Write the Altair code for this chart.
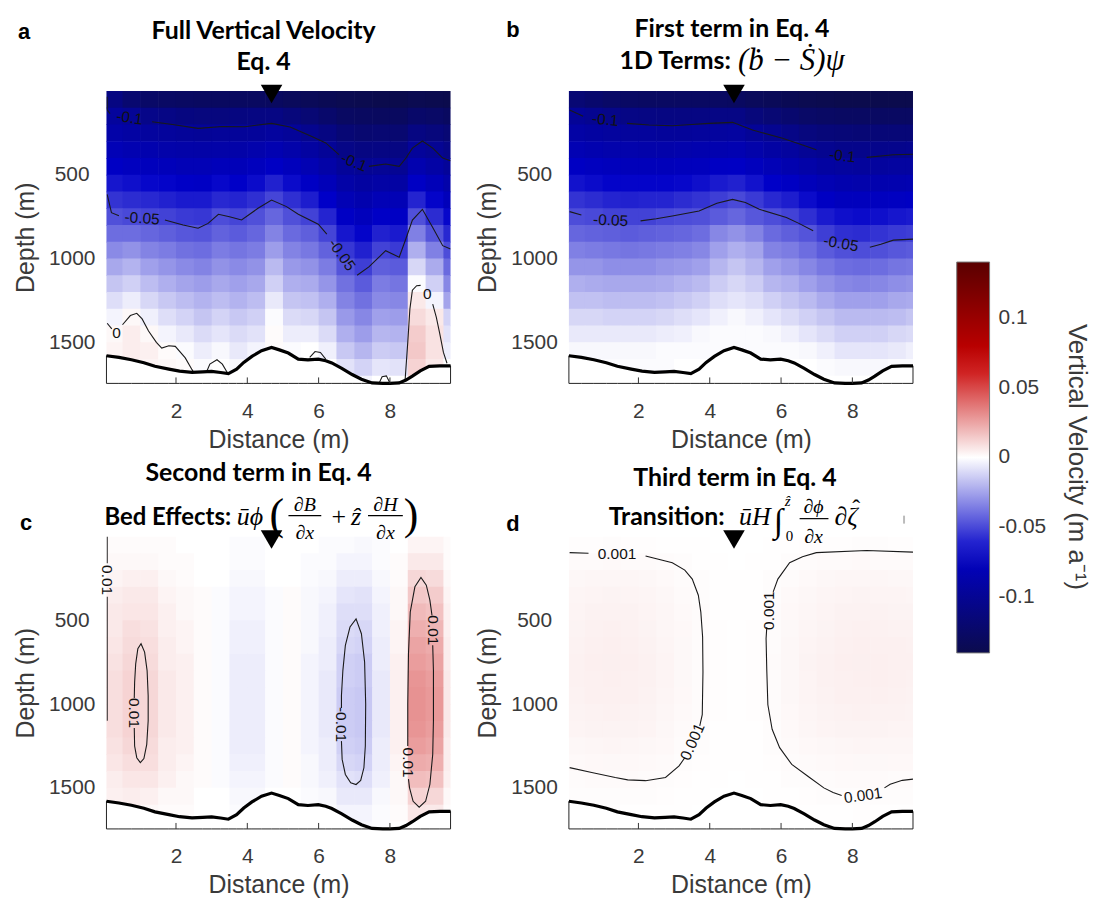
import altair as alt
import pandas as pd

# ---------------- axes / grid definitions ----------------
X_DOMAIN = [0.05, 9.7]
D_MAX = 1745
X_TICKS = [2, 4, 6, 8]
Y_TICKS = [500, 1000, 1500]
MARKER_X = 4.68

X_EDGES = [0.0, 0.5, 1.0, 1.5, 2.0, 2.5, 3.0, 3.5, 4.0, 4.5, 5.0, 5.5, 6.0, 6.5, 7.0, 7.5, 8.0, 8.5, 9.0, 9.5, 10.0]
D_EDGES = [0, 100, 200, 300, 400, 500, 600, 700, 800, 900, 1000, 1100, 1200, 1300, 1400, 1500, 1600, 1700, 1800]

# ---------------- bed ----------------
BED_X = [0.05, 0.4, 0.75, 1.1, 1.41, 1.8, 2.1, 2.45, 2.75, 3.0, 3.25, 3.47, 3.7, 3.9, 4.13, 4.4, 4.68, 4.9,
         5.15, 5.43, 5.7, 5.99, 6.2, 6.37, 6.65, 6.94, 7.2, 7.5, 7.8, 8.0, 8.26, 8.45, 8.63, 8.85, 9.1, 9.4, 9.7]
BED_D = [1580, 1590, 1604, 1622, 1643, 1660, 1672, 1679, 1676, 1673, 1680, 1687, 1660, 1620, 1584, 1550, 1531, 1545,
         1564, 1600, 1605, 1600, 1610, 1623, 1655, 1692, 1720, 1742, 1745, 1745, 1742, 1725, 1702, 1670, 1643, 1640, 1640]

# ---------------- fields (units of 0.001 m/a), rows = depth bands, cols = distance bands ----------------
GRID_A = [
    [-110, -120, -125, -127, -128, -129, -129, -129, -129, -130, -132, -134, -136, -138, -139, -140, -140, -138, -139, -140],
    [-95, -99, -106, -108, -111, -112, -112, -111, -110, -109, -114, -118, -123, -128, -129, -130, -130, -124, -126, -129],
    [-88, -91, -94, -95, -97, -98, -97, -97, -96, -94, -97, -103, -110, -117, -120, -119, -120, -110, -113, -118],
    [-80, -83, -85, -87, -88, -89, -88, -88, -86, -83, -87, -92, -98, -107, -110, -109, -110, -96, -100, -107],
    [-72, -75, -77, -78, -80, -80, -78, -79, -76, -72, -77, -82, -89, -97, -100, -99, -100, -84, -90, -97],
    [-64, -66, -68, -69, -71, -72, -68, -70, -67, -61, -67, -72, -79, -89, -92, -90, -91, -72, -79, -87],
    [-56, -58, -59, -61, -63, -63, -59, -60, -57, -51, -57, -62, -70, -81, -85, -80, -81, -60, -69, -78],
    [-48, -50, -51, -52, -54, -55, -49, -51, -48, -42, -48, -52, -60, -72, -77, -71, -72, -48, -58, -68],
    [-40, -40, -42, -44, -46, -47, -43, -45, -42, -34, -41, -44, -51, -64, -69, -61, -63, -35, -47, -59],
    [-32, -30, -34, -36, -39, -40, -36, -38, -36, -27, -34, -37, -43, -55, -61, -52, -54, -22, -35, -49],
    [-24, -21, -26, -29, -32, -34, -30, -32, -30, -19, -28, -30, -36, -47, -53, -44, -45, -11, -23, -41],
    [-16, -13, -18, -22, -25, -27, -24, -26, -24, -13, -22, -23, -29, -39, -45, -36, -38, -1, -13, -33],
    [-9, -5, -11, -15, -18, -21, -18, -21, -18, -6, -16, -17, -22, -34, -39, -32, -33, 6, -3, -25],
    [-3, 2, -4, -9, -12, -16, -12, -15, -13, -1, -10, -11, -16, -28, -33, -26, -27, 10, 6, -12],
    [2, 5, 2, -3, -6, -10, -7, -10, -8, 1, -5, -5, -10, -22, -27, -20, -21, 14, 8, -8],
    [3, 5, 4, 1, -1, -5, -2, -6, -3, 1, -1, 0, -4, -15, -20, -14, -15, 15, 8, -5],
    [2, 3, 3, 2, 1, -1, 0, -2, 0, 0, 0, 0, 0, -8, -12, -7, -8, 12, 6, 0],
    [0, 0, 0, 0, 0, 0, 0, 0, 0, 0, 0, 0, 0, -1, -3, 0, 0, 8, 3, 0],
]

GRID_B = [
    [-118, -122, -125, -127, -128, -128, -128, -128, -128, -129, -132, -134, -136, -138, -139, -140, -140, -140, -140, -140],
    [-98, -102, -106, -108, -109, -110, -110, -109, -108, -108, -114, -118, -121, -125, -127, -128, -128, -128, -128, -128],
    [-90, -92, -94, -95, -95, -96, -96, -95, -94, -93, -98, -102, -107, -112, -115, -116, -117, -116, -116, -116],
    [-82, -84, -86, -86, -87, -87, -86, -85, -84, -83, -87, -91, -94, -99, -102, -105, -105, -105, -104, -103],
    [-73, -75, -77, -78, -78, -78, -77, -76, -73, -72, -76, -80, -84, -88, -92, -94, -95, -94, -93, -93],
    [-65, -67, -69, -69, -69, -69, -68, -66, -63, -61, -65, -70, -73, -78, -82, -85, -86, -85, -84, -83],
    [-56, -58, -60, -61, -60, -60, -58, -56, -53, -50, -54, -59, -62, -67, -73, -76, -76, -75, -74, -73],
    [-49, -50, -52, -52, -52, -50, -49, -48, -45, -42, -46, -49, -52, -57, -63, -66, -67, -66, -64, -63],
    [-42, -43, -44, -45, -44, -43, -42, -40, -33, -30, -34, -41, -44, -47, -53, -57, -58, -56, -54, -53],
    [-35, -36, -37, -38, -37, -36, -35, -33, -26, -22, -25, -34, -36, -40, -45, -48, -49, -48, -46, -45],
    [-29, -29, -31, -31, -31, -29, -28, -26, -20, -16, -20, -26, -29, -33, -37, -40, -41, -40, -38, -37],
    [-22, -23, -24, -24, -24, -23, -21, -19, -14, -11, -14, -20, -22, -26, -30, -33, -34, -33, -31, -30],
    [-17, -17, -18, -18, -18, -17, -15, -13, -9, -7, -9, -13, -16, -19, -23, -26, -26, -26, -24, -23],
    [-11, -11, -12, -12, -12, -11, -9, -7, -4, -2, -4, -7, -10, -13, -16, -19, -19, -19, -18, -16],
    [-6, -6, -6, -6, -6, -5, -4, -2, -1, -1, -1, -2, -4, -7, -10, -13, -13, -13, -11, -10],
    [-2, -2, -2, -2, -2, -1, -1, -1, -1, -1, -1, -1, -1, -2, -4, -7, -7, -7, -6, -4],
    [-1, -1, -1, -1, -1, -1, 0, 0, 0, 0, 0, 0, 0, 0, -1, -2, -2, -2, -1, -1],
    [0, 0, 0, 0, 0, 0, 0, 0, 0, 0, 0, 0, 0, 0, 0, 0, 0, 0, 0, 0],
]

GRID_C = [
    [1, 1, 1, 1, 0, 0, 0, -1, -1, 0, 0, 0, -1, -1, -2, -1, 0, 3, 3, 1],
    [2, 2, 2, 1, 1, 0, 0, -1, -1, 0, 0, -1, -1, -3, -3, -1, 1, 6, 6, 1],
    [3, 4, 4, 2, 1, 0, 0, -2, -2, 0, 0, -1, -2, -5, -5, -2, 1, 11, 10, 2],
    [5, 6, 6, 3, 2, 1, -1, -3, -3, -1, 1, -2, -3, -7, -8, -3, 2, 15, 14, 3],
    [6, 7, 7, 4, 2, 1, -1, -3, -3, -1, 1, -2, -4, -9, -9, -4, 2, 19, 17, 4],
    [6, 9, 8, 4, 3, 1, -1, -4, -4, -1, 1, -2, -4, -10, -11, -4, 3, 22, 20, 4],
    [7, 10, 9, 5, 3, 1, -1, -4, -4, -1, 1, -2, -5, -11, -12, -5, 3, 25, 23, 5],
    [8, 11, 10, 5, 4, 1, -1, -5, -5, -1, 1, -3, -5, -13, -14, -5, 4, 27, 25, 5],
    [9, 12, 11, 6, 4, 1, -1, -5, -5, -1, 1, -3, -6, -13, -14, -6, 4, 29, 27, 6],
    [9, 12, 11, 6, 4, 1, -1, -5, -5, -1, 1, -3, -6, -14, -15, -6, 4, 30, 28, 6],
    [9, 12, 11, 6, 4, 1, -1, -5, -5, -1, 1, -3, -6, -14, -15, -6, 4, 30, 28, 6],
    [9, 12, 11, 6, 4, 1, -1, -5, -5, -1, 1, -3, -6, -14, -15, -6, 4, 29, 27, 6],
    [8, 11, 10, 5, 4, 1, -1, -5, -5, -1, 1, -3, -5, -13, -14, -5, 4, 27, 25, 5],
    [7, 9, 9, 5, 3, 1, -1, -4, -4, -1, 1, -2, -5, -11, -12, -5, 3, 23, 22, 5],
    [5, 7, 7, 4, 2, 1, -1, -3, -3, -1, 1, -2, -4, -8, -9, -4, 2, 18, 17, 4],
    [4, 5, 4, 2, 2, 0, 0, -2, -2, 0, 0, -1, -2, -6, -6, -2, 2, 12, 11, 2],
    [2, 3, 2, 1, 1, 0, 0, -1, -1, 0, 0, -1, -1, -3, -3, -1, 1, 7, 6, 1],
    [1, 1, 1, 1, 0, 0, 0, -1, -1, 0, 0, 0, -1, -1, -2, -1, 0, 3, 3, 1],
]

GRID_D = [
    [0.6, 0.6, 0.7, 0.6, 0.6, 0.4, 0.3, 0.2, 0.1, 0.1, 0.1, 0.2, 0.3, 0.5, 0.6, 0.6, 0.7, 0.7, 0.6, 0.6],
    [1.3, 1.5, 1.6, 1.5, 1.3, 1.0, 0.7, 0.4, 0.2, 0.1, 0.2, 0.4, 0.8, 1.1, 1.3, 1.5, 1.6, 1.5, 1.4, 1.4],
    [2.1, 2.4, 2.5, 2.4, 2.1, 1.6, 1.1, 0.7, 0.3, 0.2, 0.3, 0.7, 1.2, 1.7, 2.1, 2.4, 2.5, 2.4, 2.3, 2.2],
    [2.7, 3.0, 3.2, 3.0, 2.7, 2.1, 1.4, 0.9, 0.4, 0.3, 0.4, 0.9, 1.6, 2.2, 2.7, 3.0, 3.2, 3.1, 2.9, 2.8],
    [3.1, 3.5, 3.7, 3.5, 3.1, 2.4, 1.7, 1.0, 0.4, 0.3, 0.4, 1.0, 1.8, 2.6, 3.1, 3.5, 3.7, 3.6, 3.4, 3.2],
    [3.4, 3.9, 4.1, 3.9, 3.4, 2.6, 1.8, 1.1, 0.5, 0.3, 0.5, 1.1, 2.0, 2.8, 3.4, 3.9, 4.1, 3.9, 3.7, 3.6],
    [3.7, 4.2, 4.4, 4.2, 3.7, 2.8, 2.0, 1.2, 0.5, 0.3, 0.5, 1.2, 2.2, 3.1, 3.7, 4.2, 4.4, 4.2, 4.0, 3.8],
    [3.8, 4.3, 4.5, 4.3, 3.8, 2.9, 2.0, 1.2, 0.5, 0.4, 0.5, 1.3, 2.3, 3.2, 3.8, 4.3, 4.5, 4.4, 4.1, 4.0],
    [3.8, 4.2, 4.4, 4.2, 3.8, 2.9, 2.0, 1.2, 0.5, 0.4, 0.5, 1.2, 2.2, 3.1, 3.8, 4.2, 4.4, 4.3, 4.1, 3.9],
    [3.6, 4.0, 4.2, 4.0, 3.6, 2.7, 1.9, 1.1, 0.5, 0.3, 0.5, 1.2, 2.1, 2.9, 3.6, 4.0, 4.2, 4.1, 3.9, 3.7],
    [3.3, 3.6, 3.8, 3.6, 3.3, 2.5, 1.7, 1.0, 0.5, 0.3, 0.5, 1.1, 1.9, 2.7, 3.3, 3.6, 3.8, 3.7, 3.5, 3.4],
    [2.9, 3.2, 3.4, 3.2, 2.9, 2.2, 1.5, 0.9, 0.4, 0.3, 0.4, 0.9, 1.7, 2.4, 2.9, 3.2, 3.4, 3.3, 3.1, 3.0],
    [2.3, 2.6, 2.7, 2.6, 2.3, 1.8, 1.2, 0.7, 0.3, 0.2, 0.3, 0.8, 1.4, 1.9, 2.3, 2.6, 2.7, 2.6, 2.5, 2.4],
    [1.7, 1.9, 2.0, 1.9, 1.7, 1.3, 0.9, 0.5, 0.2, 0.2, 0.2, 0.6, 1.0, 1.4, 1.7, 1.9, 2.0, 2.0, 1.9, 1.8],
    [1.1, 1.3, 1.4, 1.3, 1.1, 0.9, 0.6, 0.4, 0.2, 0.1, 0.2, 0.4, 0.7, 0.9, 1.1, 1.3, 1.4, 1.3, 1.2, 1.2],
    [0.7, 0.8, 0.8, 0.8, 0.7, 0.5, 0.4, 0.2, 0.1, 0.1, 0.1, 0.2, 0.4, 0.6, 0.7, 0.8, 0.8, 0.8, 0.7, 0.7],
    [0.4, 0.4, 0.5, 0.4, 0.4, 0.3, 0.2, 0.1, 0.1, 0.0, 0.1, 0.1, 0.2, 0.3, 0.4, 0.4, 0.5, 0.4, 0.4, 0.4],
    [0.2, 0.2, 0.2, 0.2, 0.2, 0.1, 0.1, 0.1, 0.0, 0.0, 0.0, 0.1, 0.1, 0.2, 0.2, 0.2, 0.2, 0.2, 0.2, 0.2],
]

# ---------------- contour lines (distance, depth) and their labels ----------------
CONT_A = [
    [(0.07, 35), (0.07, 112), (0.15, 135)],
    [(1.33, 183), (1.9, 200), (2.62, 223), (3.3, 212), (3.93, 213), (4.68, 193), (5.2, 215), (5.81, 272), (6.2, 310), (6.57, 380)],
    [(7.41, 450), (7.88, 436), (8.26, 450), (8.45, 400), (8.63, 341), (8.91, 298), (9.2, 341), (9.48, 400), (9.7, 416)],
    [(0.07, 617), (0.19, 726), (0.4, 745)],
    [(1.69, 770), (2.2, 800), (2.62, 819), (2.9, 790), (3.19, 736), (3.5, 750), (3.84, 770), (4.3, 700), (4.68, 651),
     (5.1, 690), (5.43, 736), (5.99, 795), (6.23, 854)],
    [(7.08, 1100), (7.41, 1050), (7.88, 953), (8.26, 992), (8.45, 880), (8.63, 770), (8.91, 706), (9.2, 815), (9.48, 923), (9.7, 943)],
    [(0.07, 1386), (0.2, 1420)],
    [(0.5, 1395), (0.72, 1340), (0.9, 1327), (1.05, 1360), (1.23, 1432), (1.45, 1500), (1.6, 1534), (1.8, 1520),
     (1.98, 1524), (2.26, 1593), (2.45, 1663), (2.5, 1680)],
    [(2.85, 1680), (2.95, 1630), (3.15, 1604), (3.3, 1630), (3.45, 1685)],
    [(5.75, 1590), (5.9, 1555), (6.05, 1560), (6.2, 1600)],
    [(7.7, 1742), (7.78, 1705), (7.9, 1700), (8.0, 1742)],
    [(8.42, 1742), (8.5, 1500), (8.56, 1300), (8.63, 1189), (8.75, 1162), (8.86, 1160)],
    [(9.2, 1272), (9.3, 1350), (9.39, 1440), (9.5, 1560), (9.6, 1625)],
]
LAB_A = [(0.7, 160, "-0.1", 8), (6.99, 425, "-0.1", 22), (1.05, 760, "-0.05", 4), (6.65, 977, "-0.05", 55),
         (0.33, 1442, "0", 0), (5.05, 1580, "0", 0), (9.05, 1210, "0", 0)]

CONT_B = [
    [(0.07, 114), (0.45, 150)],
    [(1.68, 193), (2.3, 203), (2.95, 207), (3.5, 200), (3.98, 193), (4.64, 187), (5.2, 233), (6.04, 282), (6.5, 315), (6.99, 351)],
    [(8.4, 396), (8.8, 388), (9.15, 380), (9.7, 377)],
    [(0.07, 720), (0.4, 740)],
    [(2.06, 775), (2.5, 762), (2.95, 746), (3.7, 716), (4.2, 670), (4.64, 647), (5.0, 665), (5.39, 706), (6.15, 755), (6.5, 790), (6.9, 834)],
    [(8.49, 933), (8.8, 915), (9.15, 890), (9.7, 884)],
]
LAB_B = [(1.07, 172, "-0.1", 5), (7.72, 388, "-0.1", 6), (1.22, 772, "-0.05", 3), (7.68, 910, "-0.05", 10)]

CONT_C = [
    [(0.07, 0), (0.07, 160)],
    [(0.07, 360), (0.07, 1100)],
    [(0.83, 1142), (0.84, 1250), (0.9, 1320), (1.0, 1349), (1.1, 1325), (1.18, 1240), (1.22, 1100), (1.22, 950),
     (1.19, 800), (1.12, 690), (1.02, 640), (0.93, 670), (0.87, 760), (0.84, 870), (0.83, 964)],
    [(6.64, 1221), (6.66, 1330), (6.75, 1420), (6.9, 1470), (7.05, 1480), (7.18, 1455), (7.27, 1380), (7.31, 1250),
     (7.32, 1000), (7.29, 750), (7.2, 580), (7.05, 491), (6.88, 540), (6.75, 650), (6.68, 800), (6.64, 950), (6.64, 1024)],
    [(9.2, 649), (9.22, 800), (9.22, 1100), (9.2, 1300), (9.12, 1480), (9.0, 1580), (8.82, 1615), (8.65, 1580),
     (8.55, 1500), (8.52, 1448)],
    [(8.5, 1250), (8.5, 1000), (8.52, 700), (8.57, 450), (8.7, 300), (8.87, 244), (9.02, 290), (9.12, 380), (9.18, 471)],
]
LAB_C = [(0.07, 260, "0.01", 90), (0.83, 1053, "0.01", 90), (6.64, 1122, "-0.01", 90), (9.2, 560, "0.01", 90),
         (8.5, 1349, "0.01", 90)]

CONT_D = [
    [(0.07, 96), (0.6, 100)],
    [(2.2, 116), (2.95, 156), (3.3, 200), (3.51, 254), (3.68, 350), (3.75, 451), (3.8, 600), (3.81, 807), (3.79, 1063), (3.72, 1130)],
    [(3.3, 1320), (3.14, 1369), (2.76, 1438), (2.2, 1457), (1.7, 1452), (1.35, 1438), (0.69, 1408), (0.07, 1379)],
    [(9.7, 93), (8.4, 83), (6.99, 96), (6.6, 120), (6.24, 156), (5.91, 254), (5.78, 330)],
    [(5.6, 540), (5.58, 609), (5.6, 800), (5.63, 1004), (5.75, 1150), (5.96, 1260), (6.3, 1360), (6.8, 1438),
     (7.2, 1500), (7.46, 1527), (7.7, 1545)],
    [(8.9, 1500), (9.06, 1478), (9.4, 1455), (9.7, 1448)],
]
LAB_D = [(1.4, 107, "0.001", 0), (3.52, 1225, "0.001", 294), (5.67, 442, "0.001", 270), (8.3, 1546, "0.001", 352)]

CBAR_VALUES = [-0.1, -0.05, 0, 0.05, 0.1]
CBAR_TITLE = "Vertical Velocity (m a⁻¹)"
CMAP_STOPS = [-0.14, -0.07, 0, 0.07, 0.14]
CMAP_COLORS = ["#0b0b4d", "#0000c8", "#ffffff", "#c80000", "#5a0000"]

# ---------------- styling ----------------
W, H = 346, 294
AX_FONT = "Liberation Sans"
AX_COL = "#3a3a3a"
TITLE_FONT = "Lato"
TITLE_SIZE = 25
MATH_FONT = "Liberation Serif, DejaVu Serif"

xscale = alt.Scale(domain=X_DOMAIN, nice=False, zero=False)
yscale = alt.Scale(domain=[0, D_MAX], nice=False, zero=False, reverse=True)
cscale = alt.Scale(domain=CMAP_STOPS, range=CMAP_COLORS, interpolate="rgb", clamp=True)

xaxis = alt.Axis(values=X_TICKS, title="Distance (m)", grid=False, ticks=False, tickSize=0, domain=False,
                 labelFont=AX_FONT, labelFontSize=21, labelColor=AX_COL, labelPadding=17,
                 titleFont=AX_FONT, titleFontSize=25, titleFontWeight="normal", titleColor=AX_COL, titlePadding=6)
yaxis = alt.Axis(values=Y_TICKS, format="d", title="Depth (m)", grid=False, ticks=False, tickSize=0, domain=False,
                 labelFont=AX_FONT, labelFontSize=21, labelColor=AX_COL, labelPadding=35, labelAlign="center",
                 labelBaseline="middle",
                 titleFont=AX_FONT, titleFontSize=25, titleFontWeight="normal", titleColor=AX_COL, titlePadding=10)


def X(f):
    return alt.X(f, type="quantitative", scale=xscale, axis=xaxis)


def Y(f):
    return alt.Y(f, type="quantitative", scale=yscale, axis=yaxis)


ONE = [{"k": 0}]


def txt(s, x, y, size=TITLE_SIZE, font=TITLE_FONT, weight="bold", style="normal", align="left", color="black",
        angle=0, baseline="alphabetic"):
    return alt.Chart(alt.Data(values=ONE)).mark_text(
        text=s, font=font, fontSize=size, fontWeight=weight, fontStyle=style,
        align=align, baseline=baseline, color=color, angle=angle
    ).encode(x=alt.value(x), y=alt.value(y))


def hbar(x1, x2, y, color="black", width=1.2):
    return alt.Chart(alt.Data(values=ONE)).mark_rule(color=color, strokeWidth=width).encode(
        x=alt.value(x1), x2=alt.value(x2), y=alt.value(y))


def vbar(x, y1, y2, color="#bbbbbb", width=2):
    return alt.Chart(alt.Data(values=ONE)).mark_rule(color=color, strokeWidth=width).encode(
        x=alt.value(x), y=alt.value(y1), y2=alt.value(y2))


def heat_df(grid):
    rows = []
    for i, row in enumerate(grid):
        for j, v in enumerate(row):
            rows.append({"x": X_EDGES[j], "x2": X_EDGES[j + 1], "d": D_EDGES[i], "d2": D_EDGES[i + 1], "v": v / 1000.0})
    return pd.DataFrame(rows)


def contour_df(segs):
    rows = []
    for sid, pts in enumerate(segs):
        for k, (x, d) in enumerate(pts):
            rows.append({"x": x, "d": d, "s": sid, "o": k})
    return pd.DataFrame(rows)


def label_df(labs):
    return pd.DataFrame([{"x": x, "d": d, "t": t, "a": a} for (x, d, t, a) in labs])


bed_df = pd.DataFrame({"x": BED_X, "d": BED_D, "b": [D_MAX] * len(BED_X)})
tick_df = pd.DataFrame({"t": X_TICKS})
marker_df = pd.DataFrame({"x": [MARKER_X]})


def panel(grid, conts, labs, extras, legend=None):
    heat = alt.Chart(heat_df(grid)).mark_rect(clip=True, x2Offset=0.6, y2Offset=0.6).encode(
        x=X("x"), x2=alt.X2("x2"), y=Y("d"), y2=alt.Y2("d2"),
        color=alt.Color("v:Q", scale=cscale, legend=legend),
    )
    bed_area = alt.Chart(bed_df).mark_area(fill="white", stroke="#222222", strokeWidth=1).encode(
        x=X("x"), y=Y("d"), y2=alt.Y2("b"))
    bed_line = alt.Chart(bed_df).mark_line(color="black", strokeWidth=3.2).encode(x=X("x"), y=Y("d"))
    lines = alt.Chart(contour_df(conts)).mark_line(color="#1a1a1a", strokeWidth=1.1, clip=True).encode(
        x=X("x"), y=Y("d"), detail="s:N", order="o:Q")
    ltext = alt.Chart(label_df(labs)).mark_text(font=AX_FONT, fontSize=15.5, color="#111111",
                                                align="center", baseline="middle").encode(
        x=X("x"), y=Y("d"), text="t:N", angle=alt.Angle("a:Q", scale=None))
    ticks = alt.Chart(tick_df).mark_rule(color="#333333", strokeWidth=1).encode(
        x=X("t"), y=alt.value(H - 6), y2=alt.value(H))
    marker = alt.Chart(marker_df).mark_point(shape="triangle-down", filled=True, color="black",
                                             size=470, opacity=1).encode(x=X("x"), y=alt.value(3))
    return alt.layer(heat, lines, ltext, bed_area, bed_line, ticks, marker, *extras).properties(width=W, height=H)


legend_b = alt.Legend(
    type="gradient", orient="none", legendX=390, legendY=172, direction="vertical",
    gradientLength=393, gradientThickness=33, values=CBAR_VALUES, labelExpr="'' + datum.value",
    labelFont=AX_FONT, labelFontSize=21, labelColor=AX_COL, labelOffset=9,
    title=None, gradientStrokeColor="#777777", gradientStrokeWidth=1, padding=0,
)

anchor = alt.Chart(alt.Data(values=ONE)).mark_rect(fill="white").encode(
    x=alt.value(-99), x2=alt.value(-98), y=alt.value(-81), y2=alt.value(-80))

extras_a = [
    anchor,
    txt("a", -89, -52, 22, AX_FONT),
    txt("Full Vertical Velocity", 158, -52, align="center"),
    txt("Eq. 4", 158, -21, align="center"),
]
extras_b = [
    txt("b", -63, -54, 22, AX_FONT),
    txt("First term in Eq. 4", 164, -54, align="center"),
    txt("1D Terms:", 51, -22),
    txt("(ḃ − Ṡ)ψ", 170, -21, 31, MATH_FONT, "normal", "italic"),
    txt(CBAR_TITLE, 511, 368, 26, AX_FONT, "normal", align="center", color=AX_COL, angle=90, baseline="middle"),
]
extras_c = [
    txt("c", -87, -7, 22, AX_FONT),
    txt("Second term in Eq. 4", 153, -56, align="center"),
    txt("Bed Effects:", -2, -12, 24),
    txt("ūϕ", 131, -12, 26, MATH_FONT, "normal", "italic"),
    txt("(", 164, -8, 44, MATH_FONT, "normal"),
    txt("∂B", 199.5, -26, 20, MATH_FONT, "normal", "italic", "center"),
    hbar(183, 216, -21),
    txt("∂x", 199.5, 2, 20, MATH_FONT, "normal", "italic", "center"),
    txt("+", 233.5, -12, 26, MATH_FONT, "normal", "normal", "center"),
    txt("ẑ", 251, -12, 26, MATH_FONT, "normal", "italic", "center"),
    txt("∂H", 280.5, -26, 20, MATH_FONT, "normal", "italic", "center"),
    hbar(263, 298, -21),
    txt("∂x", 280.5, 2, 20, MATH_FONT, "normal", "italic", "center"),
    txt(")", 299, -8, 44, MATH_FONT, "normal"),
]
extras_d = [
    txt("d", -63, -6, 22, AX_FONT),
    txt("Third term in Eq. 4", 167, -51, align="center"),
    txt("Transition:", 40, -12),
    txt("ūH", 171, -12, 26, MATH_FONT, "normal", "italic"),
    txt("∫", 206, -5, 34, MATH_FONT, "normal"),
    txt("0", 218, 4, 15, MATH_FONT, "normal"),
    txt("ẑ", 217, -31, 15, MATH_FONT, "normal", "italic"),
    txt("∂ϕ", 246, -24, 20, MATH_FONT, "normal", "italic", "center"),
    hbar(232, 261, -18),
    txt("∂x", 246, 6, 20, MATH_FONT, "normal", "italic", "center"),
    txt("∂ζ", 267, -12, 26, MATH_FONT, "normal", "italic"),
    txt("ˆ", 289, -21, 24, MATH_FONT, "normal", "normal", "center"),
    vbar(337, -21, -13),
]

pa = panel(GRID_A, CONT_A, LAB_A, extras_a)
pb = panel(GRID_B, CONT_B, LAB_B, extras_b, legend=legend_b)
pc = panel(GRID_C, CONT_C, LAB_C, extras_c)
pd_ = panel(GRID_D, CONT_D, LAB_D, extras_d)

chart = alt.concat(
    pa, pb, pc, pd_, columns=2, spacing={"row": 154, "column": 119}, bounds="flush",
    padding={"left": 0, "top": 0, "right": 2, "bottom": 0},
).resolve_scale(color="independent").configure_view(strokeWidth=0)

chart.save("out.html", embed_options={"renderer": "svg", "actions": False})
